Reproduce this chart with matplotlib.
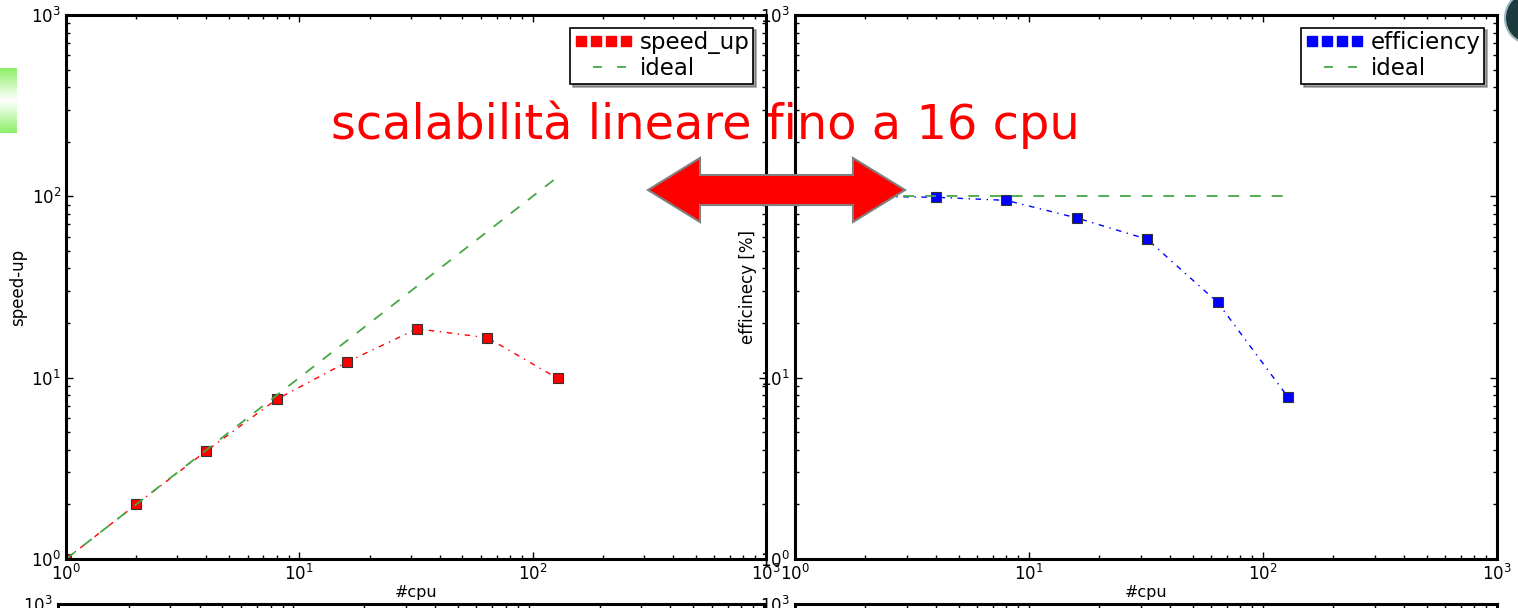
import numpy as np
import matplotlib
matplotlib.use("Agg")
import matplotlib.pyplot as plt
from matplotlib.patches import Polygon, Ellipse
from matplotlib.lines import Line2D
from matplotlib.ticker import NullFormatter

# --- data -------------------------------------------------------------
cpus = [1, 2, 4, 8, 16, 32, 64, 128]
speed_up = [1.0, 2.0, 3.95, 7.6, 12.2, 18.6, 16.6, 9.9]
efficiency = [100.0, 100.0, 98.8, 95.0, 76.0, 58.0, 26.0, 7.8]
ideal_speed_up = [1, 128]
ideal_efficiency = [100, 100]
ideal_cpus = [1, 128]

title_text = "scalabilità lineare fino a 16 cpu"

# --- figure -----------------------------------------------------------
W, H = 1518, 608
fig = plt.figure(figsize=(W / 100, H / 100), dpi=100)
plt.rcParams["font.family"] = ["DejaVu Sans"]
plt.rcParams["mathtext.default"] = "regular"


def px_axes(x0, x1, y0, y1):
    """Axes placed by pixel box (y measured from the top)."""
    return fig.add_axes([x0 / W, 1 - y1 / H, (x1 - x0) / W, (y1 - y0) / H])


def style_log_axes(ax):
    ax.set_xscale("log")
    ax.set_yscale("log")
    ax.set_xlim(1, 1000)
    ax.set_ylim(1, 1000)
    for s in ax.spines.values():
        s.set_linewidth(2.2)
    ax.tick_params(which="both", direction="in", top=True, right=True,
                   labelsize=12, width=1)
    ax.tick_params(which="major", length=5)
    ax.tick_params(which="minor", length=3)


green = "#45a845"
dashdot = (0, (4, 4, 1, 4))
dashed = (0, (6, 6))
legend_dashed = (6.8, (5, 8.4))


def panel(ax, values, ideal, color, label, ylabel):
    style_log_axes(ax)
    ax.plot(cpus, values, color=color, linestyle=dashdot, lw=1,
            marker="s", markersize=7.5, markerfacecolor=color,
            markeredgecolor="#333333", markeredgewidth=0.8)
    ax.plot(ideal_cpus, ideal, color=green, linestyle=dashed, lw=1.3)
    ax.set_xlabel("#cpu", fontsize=11.5, labelpad=1)
    ax.set_ylabel(ylabel, fontsize=12, labelpad=3)
    handles = [Line2D([], [], ls="none", marker="s", markersize=6.8,
                      markerfacecolor=color, markeredgecolor=color),
               Line2D([], [], color=green, linestyle=legend_dashed, lw=1.3)]
    leg = ax.legend(handles, [label, "ideal"], loc="upper right",
                    numpoints=4, handlelength=2.6, fontsize=16.5,
                    fancybox=False, shadow=True, borderaxespad=0.55,
                    handletextpad=0.3, labelspacing=0.15, borderpad=0.15)
    leg.get_frame().set_edgecolor("black")
    leg.get_frame().set_linewidth(1.2)


# left: speed-up
ax1 = px_axes(66, 766, 15, 559)
panel(ax1, speed_up, ideal_speed_up, "red", "speed_up", "speed-up")

# right: efficiency
ax2 = px_axes(795, 1497, 15, 559)
panel(ax2, efficiency, ideal_efficiency, "blue", "efficiency",
      "efficinecy [%]")
ax2.yaxis.labelpad = 2

# second row of panels, mostly below the page edge
for x0, x1 in ((58, 764), (795, 1497)):
    axb = px_axes(x0, x1, 604, 1148)
    style_log_axes(axb)
    axb.set_yticks([1000])
    axb.xaxis.set_major_formatter(NullFormatter())

# green gradient tab on the left edge
tab = fig.add_axes([0, 1 - 133 / H, 17 / W, 65 / H])
grad = np.abs(np.linspace(-1, 1, 64))[:, None]
cmap = matplotlib.colors.LinearSegmentedColormap.from_list(
    "tab", ["white", "#8ef06a"])
tab.imshow(grad, aspect="auto", cmap=cmap, vmin=0, vmax=1)
tab.axis("off")

# small logo disc in the top-right corner
fig.patches.append(Ellipse((1528 / W, 1 - 18 / H), 46 / W, 50 / H,
                           transform=fig.transFigure, facecolor="#1d3b3f",
                           edgecolor="#9bb8c0", lw=1.5, zorder=20))

# headline
fig.text(705 / W, 1 - 125 / H, title_text, color="red", fontsize=34.5,
         ha="center", va="center", zorder=30)

# double-headed arrow
arrow_px = [(648, 190), (700, 158), (700, 175), (853, 175), (853, 158),
            (905, 190), (853, 222), (853, 205), (700, 205), (700, 222)]
fig.patches.append(Polygon([(x / W, 1 - y / H) for x, y in arrow_px],
                           closed=True, transform=fig.transFigure,
                           facecolor="#ff0000", edgecolor="#7f7f7f",
                           lw=1.5, zorder=30))

fig.savefig("out.png", dpi=100)
